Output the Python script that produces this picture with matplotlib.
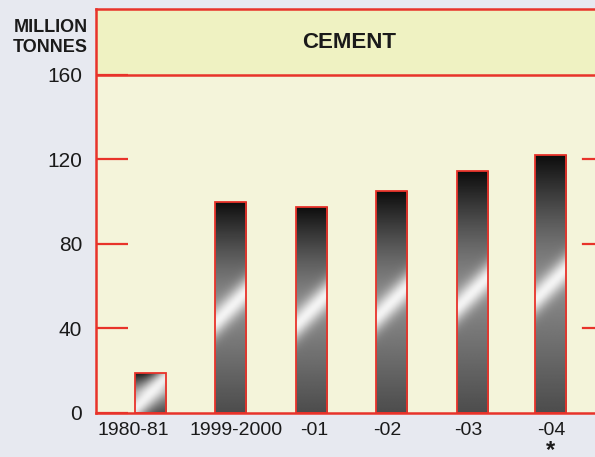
import numpy as np
import matplotlib; matplotlib.use("Agg")
import matplotlib.pyplot as plt
from matplotlib.patches import Rectangle

years = ["1980-81", "1999-2000", "-01", "-02", "-03", "-04"]
output = [19, 100, 97.5, 105, 114.5, 122]
yticks = [0, 40, 80, 120, 160]

RED = "#e8332a"
BG = "#e7e9f0"
PLOT = "#f4f4da"
HEAD = "#eff2c2"

plt.rcParams["font.family"] = ["Liberation Sans", "DejaVu Sans"]
fig = plt.figure(figsize=(5.95, 4.57), dpi=100, facecolor=BG)
ax = fig.add_axes([96/595, 44/457, 1 - 96/595 + 0.01, 404/457])
ax.set_facecolor(PLOT)

x = np.array([0, 1, 2.01, 3.01, 4.02, 4.99])
# label centres are a bit off the bar centres in the original
lab_x = np.array([-0.22, 1.07, 2.04, 2.96, 3.96, 5.0])
w = 0.39
ax.set_xlim(-0.68, 5.62)
ax.set_ylim(0, 191.2)

# header band
ax.axhspan(160, 191.2, color=HEAD, zorder=0)
ax.axhline(160, color=RED, lw=1.8, zorder=3)
ax.text(2.48, 175.5, "CEMENT", ha="center", va="center", fontsize=16, fontweight="bold", color="#1a1a1a")

# gradient bars
ny, nx = 200, 40
for xi, v in zip(x, output):
    x0, x1 = xi - w/2, xi + w/2
    ax.add_patch(Rectangle((x0, 0), w, v, fill=False, ec=RED, lw=1.3, zorder=4))
    hpx, wpx = v * 2.1125, 31
    yy, xx = np.mgrid[0:ny, 0:nx]
    r = 1 - yy / (ny - 1)          # 1 at top, 0 at bottom
    ypx = r * hpx
    xpx = xx / (nx - 1) * wpx
    d = (ypx - hpx/2) - (xpx - wpx/2)
    base = np.where(r > 0.5, 0.55 - 0.5*((r - 0.5)/0.5)**1.3, 0.55 - 0.25*((0.5 - r)/0.5))
    b = base + 0.9 * (1 - base) * np.exp(-(d / 15.0)**2)
    img = ax.imshow(b, cmap="gray", vmin=0, vmax=1, extent=(x0, x1, 0, v),
                    origin="upper", aspect="auto", zorder=2, interpolation="bilinear")
    img.set_clip_path(Rectangle((x0, 0), w, v, transform=ax.transData))

# spines
for s in ["left", "bottom", "top"]:
    ax.spines[s].set_color(RED)
    ax.spines[s].set_linewidth(1.8)
ax.spines["right"].set_visible(False)

ax.set_yticks(yticks)
ax.set_yticklabels([str(t) for t in yticks], fontsize=15, color="#1a1a1a")
ax.tick_params(axis="y", direction="in", length=23, width=1.6, color=RED, pad=10)
ax.set_xticks([])
for lx, lab in zip(lab_x, years):
    ax.annotate(lab, xy=(lx, 0), xycoords=("data", "axes fraction"), xytext=(0, -12.5),
                textcoords="offset points", ha="center", va="center", fontsize=14, color="#1a1a1a")
ax.annotate("*", xy=(x[-1], 0), xycoords=("data", "axes fraction"), xytext=(0, -19),
            textcoords="offset points", ha="center", va="top", fontsize=17, fontweight="bold",
            color="#1a1a1a")
# right-side tick marks
for t in [40, 80, 120]:
    ax.plot([5.39, 5.62], [t, t], color=RED, lw=1.6, clip_on=False, zorder=3)

fig.text(88/595, 1 - 27/457, "MILLION", ha="right", va="center", fontsize=13, fontweight="bold", color="#1a1a1a")
fig.text(88/595, 1 - 48/457, "TONNES", ha="right", va="center", fontsize=13, fontweight="bold", color="#1a1a1a")

fig.savefig("out.png", dpi=100, facecolor=BG)
